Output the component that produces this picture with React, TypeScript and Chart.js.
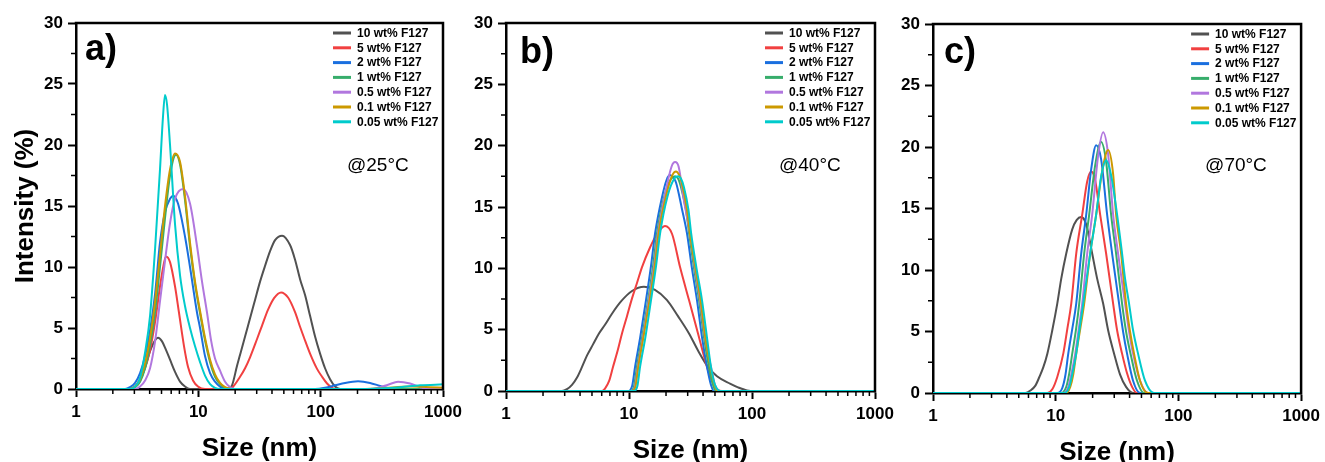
import React, { useEffect, useRef } from "react";
import { Chart, registerables } from "chart.js";

Chart.register(...registerables);

const FONT = '"Liberation Sans", Arial, Helvetica, sans-serif';

type Pt = [number, number];

// ---------- shared labels / ticks ----------
const seriesLabels = [
  "10 wt% F127",
  "5 wt% F127",
  "2 wt% F127",
  "1 wt% F127",
  "0.5 wt% F127",
  "0.1 wt% F127",
  "0.05 wt% F127",
];
const seriesColors = ["#515151", "#F14040", "#1A6FDF", "#37AD6B", "#B177DE", "#CC9900", "#00CBCC"];
const xTickValues = [1, 10, 100, 1000];
const xMinorDecades = [1, 10, 100];
const xMinorMultipliers = [2, 3, 4, 5, 6, 7, 8, 9];
const yTickValues = [0, 5, 10, 15, 20, 25, 30];
const yMinorValues = [2.5, 7.5, 12.5, 17.5, 22.5, 27.5];
const panelLetters = ["a)", "b)", "c)"];
const panelTemps = ["@25°C", "@40°C", "@70°C"];
const xTitle = "Size (nm)";
const yTitle = "Intensity (%)";

// ---------- panel a (25 °C) : [size nm, intensity %] ----------
const a_10wt: Pt[] = [[1,0],[2.76,0],[3.04,0.15],[3.34,0.7],[3.67,1.8],[4.03,3.1],[4.43,4.0],[4.68,4.2],[5.05,3.9],[5.44,3.2],[5.87,2.4],[6.45,1.4],[7.09,0.6],[7.78,0.2],[8.55,0],[17.5,0],[18.86,0.3],[20.72,1.9],[21.93,2.8],[24.1,4.3],[26.47,5.8],[29.08,7.3],[31.95,8.8],[35.12,10.1],[38.58,11.3],[42.38,12.2],[48.36,12.57],[56.21,11.8],[61.75,10.6],[67.85,9.0],[74.54,7.7],[81.9,6.0],[90.0,4.3],[98.9,2.9],[108.6,1.7],[119.4,0.8],[131.2,0.2],[144.1,0],[1000,0]];
const a_5wt: Pt[] = [[1,0],[2.76,0],[3.04,0.2],[3.34,0.8],[3.67,1.7],[4.03,3.2],[4.43,5.5],[4.86,8.4],[5.14,9.9],[5.44,10.87],[5.87,10.4],[6.45,8.4],[6.95,6.25],[7.64,3.5],[8.24,1.8],[9.05,0.7],[9.94,0.2],[11.34,0],[17.5,0],[18.86,0.1],[21.93,1.0],[24.1,1.7],[26.47,2.6],[30.2,4.1],[33.18,5.2],[37.15,6.5],[41.59,7.45],[47.46,7.92],[54.13,7.5],[61.75,6.3],[67.85,5.1],[73.13,4.2],[81.9,2.9],[93.4,1.65],[102.7,1.0],[112.8,0.45],[123.9,0.1],[133,0],[1000,0]];
const a_2wt: Pt[] = [[1,0],[2.52,0],[2.76,0.15],[3.04,0.5],[3.34,1.3],[3.67,2.7],[4.03,4.8],[4.43,7.8],[4.86,12.0],[5.34,14.5],[5.87,15.6],[6.21,15.85],[6.82,15.2],[7.78,12.5],[8.55,10.0],[9.76,6.25],[10.33,5.0],[11.34,2.7],[12.47,1.3],[13.69,0.6],[15.05,0.2],[17.49,0],[90,0],[108.6,0.1],[131.2,0.3],[158.3,0.5],[202.2,0.63],[253.4,0.5],[306,0.25],[369.4,0.05],[446,0],[1000,0]];
const a_1wt: Pt[] = [[1,0],[2.76,0],[3.04,0.15],[3.34,0.6],[3.67,1.7],[4.03,3.6],[4.43,6.3],[4.86,10.0],[5.34,14.0],[5.87,17.5],[6.57,19.2],[7.09,18.4],[7.78,15.5],[8.55,11.7],[9.4,8.6],[10.33,6.2],[11.34,4.0],[12.47,2.2],[13.69,1.0],[15.05,0.4],[16.54,0.1],[18.86,0],[1000,0]];
const a_05wt: Pt[] = [[1,0],[3.04,0],[3.34,0.2],[3.67,0.7],[4.03,1.7],[4.43,3.9],[4.86,7.2],[5.34,10.5],[5.87,13.6],[6.45,15.6],[7.5,16.4],[8.55,15.2],[9.76,11.7],[10.72,8.8],[11.78,6.25],[12.7,4.0],[13.69,2.5],[15.05,1.5],[16.54,0.6],[18.16,0.15],[19.96,0],[253.4,0],[294.6,0.1],[355.7,0.35],[429.5,0.6],[538.3,0.45],[649.7,0.15],[755.3,0],[1000,0]];
const a_01wt: Pt[] = [[1,0],[2.76,0],[3.04,0.2],[3.34,0.8],[3.67,2.1],[4.03,4.2],[4.43,7.2],[4.86,11.0],[5.34,15.0],[5.87,18.0],[6.45,19.3],[7.09,18.6],[7.78,15.8],[8.55,12.0],[9.4,8.8],[10.33,6.4],[11.34,4.2],[12.47,2.4],[13.69,1.2],[15.05,0.5],[16.54,0.15],[18.86,0],[174,0],[306,0.05],[538,0.2],[785,0.15],[1000,0.1]];
const a_005wt: Pt[] = [[1,0],[2.76,0],[3.04,0.2],[3.34,0.9],[3.67,3.0],[4.03,6.0],[4.43,11.5],[4.86,18.0],[5.14,22.3],[5.34,24.1],[5.55,23.3],[5.87,20.0],[6.45,13.5],[7.09,9.3],[7.78,6.8],[8.55,5.0],[9.4,3.5],[10.33,2.2],[11.34,1.1],[12.47,0.4],[13.69,0.1],[15.05,0],[200,0],[306,0.05],[446,0.15],[650,0.3],[1000,0.38]];

// ---------- panel b (40 °C) ----------
const b_10wt: Pt[] = [[1,0],[2.85,0],[3.13,0.15],[3.44,0.5],[3.78,1.1],[4.15,1.96],[4.56,2.9],[5.1,3.8],[5.7,4.69],[6.38,5.4],[7.27,6.3],[8.61,7.3],[10.58,8.15],[13.24,8.5],[16.27,8.25],[20.37,7.41],[25.02,6.1],[30.75,4.69],[36.39,3.3],[43.89,1.96],[51.93,1.2],[66.24,0.6],[76.9,0.3],[91.1,0.05],[105.8,0],[1000,0]];
const b_5wt: Pt[] = [[1,0],[6.03,0],[6.38,0.2],[6.88,0.8],[7.41,1.96],[8.14,3.4],[8.77,4.69],[9.63,6.1],[10.48,7.41],[11.61,8.8],[12.76,10.1],[14.82,11.7],[16.89,12.8],[19.62,13.45],[22.4,12.8],[26.0,10.1],[30.75,7.41],[36.39,4.69],[43.07,1.96],[47.3,0.8],[51.9,0.15],[57.0,0],[1000,0]];
const b_2wt: Pt[] = [[1,0],[9.8,0],[10.6,0.4],[11.2,1.96],[12.3,4.3],[13.75,7.41],[15.1,10.2],[16.3,12.86],[18.55,15.8],[20.2,17.2],[21.5,17.6],[22.8,17.4],[24.1,17.0],[27.0,14.8],[29.6,12.86],[32.5,10.0],[35.7,7.41],[39.2,4.4],[43.1,1.96],[46.4,0.5],[49.1,0],[1000,0]];
const b_1wt: Pt[] = [[1,0],[10.4,0],[11.0,0.4],[11.6,1.96],[12.8,4.4],[14.3,7.41],[15.7,10.2],[16.9,12.86],[19.4,15.9],[22.0,17.3],[23.7,17.5],[25.1,17.3],[26.5,16.6],[29.0,14.8],[30.8,12.86],[33.8,10.0],[37.1,7.41],[40.7,4.4],[44.7,1.96],[48.2,0.5],[51,0],[1000,0]];
const b_05wt: Pt[] = [[1,0],[10.6,0],[11.2,0.4],[11.8,1.96],[13.0,4.4],[14.5,7.41],[16.0,10.2],[17.2,12.86],[19.8,16.2],[22.2,18.3],[23.7,18.66],[25.3,18.3],[28.0,15.5],[31.3,12.86],[34.4,10.0],[37.8,7.41],[41.5,4.4],[46.4,1.96],[50,0.5],[54.9,0],[1000,0]];
const b_01wt: Pt[] = [[1,0],[10.6,0],[11.3,0.4],[11.9,1.96],[13.1,4.4],[14.7,7.41],[16.2,10.2],[17.4,12.86],[20.0,15.9],[22.5,17.6],[24.1,17.9],[25.6,17.6],[26.8,17.0],[29.5,14.9],[31.3,12.86],[34.7,10.0],[38.2,7.41],[41.7,4.4],[46.0,1.96],[49.5,0.5],[53,0],[1000,0]];
const b_005wt: Pt[] = [[1,0],[11.0,0],[11.7,0.4],[12.3,1.96],[13.6,4.4],[15.1,7.41],[16.6,10.2],[17.9,12.86],[20.6,15.9],[23.3,17.3],[25.0,17.5],[26.5,17.3],[28.0,16.6],[30.4,14.8],[32.0,12.86],[35.4,10.0],[39.2,7.41],[43.0,4.4],[46.4,1.96],[50,0.5],[57,0],[1000,0]];

// ---------- panel c (70 °C) ----------
const c_10wt: Pt[] = [[1,0],[5.66,0],[6.22,0.2],[6.83,0.6],[7.36,1.3],[7.93,2.1],[8.55,3.2],[9.38,5.1],[10.3,7.27],[11.1,9.3],[12.19,11.34],[13.64,13.3],[14.8,14.05],[16.14,14.3],[17.2,14.05],[18.06,13.4],[19.83,11.34],[21.77,9.3],[24.36,7.27],[26.75,5.1],[29.92,3.2],[33.48,1.5],[37.46,0.5],[42.71,0],[1000,0]];
const c_5wt: Pt[] = [[1,0],[8.55,0],[9.38,0.3],[10.3,1.3],[11.53,3.2],[12.43,5.2],[13.39,7.27],[14.7,11.34],[16.45,14.5],[18.06,17.2],[19.47,18.0],[20.97,17.3],[23.03,14.5],[25.76,11.34],[29.38,7.27],[31.65,5.1],[34.75,3.2],[38.16,1.6],[41.92,0.5],[46.02,0],[1000,0]];
const c_2wt: Pt[] = [[1,0],[10.3,0],[11.31,0.4],[11.97,1.4],[12.66,3.2],[13.64,5.2],[14.7,7.27],[16.14,11.34],[17.73,14.5],[19.47,18.2],[21.37,20.15],[23.46,19.0],[26.25,14.5],[28.83,11.34],[32.86,7.27],[35.41,5.0],[38.16,3.2],[42.71,1.0],[48.67,0],[1000,0]];
const c_1wt: Pt[] = [[1,0],[11.1,0],[12.19,0.5],[12.9,1.6],[13.64,3.2],[14.7,5.3],[15.55,7.27],[17.07,11.34],[18.75,14.5],[20.97,18.5],[23.46,20.4],[25.76,18.8],[28.29,14.5],[31.07,11.34],[34.75,7.27],[37.46,5.0],[41.14,3.0],[46.02,1.0],[52.47,0],[1000,0]];
const c_05wt: Pt[] = [[1,0],[11.53,0],[12.66,0.5],[13.39,1.5],[14.43,3.2],[15.55,5.5],[16.45,7.27],[18.06,11.34],[19.83,14.5],[22.18,19.3],[24.36,21.2],[26.75,19.4],[29.38,14.5],[32.25,11.34],[36.76,7.27],[39.62,5.0],[42.71,3.2],[48.67,1.0],[56.5,0],[1000,0]];
const c_01wt: Pt[] = [[1,0],[12.19,0],[13.14,0.5],[13.9,1.5],[14.7,3.2],[15.84,5.2],[17.07,7.27],[19.1,11.34],[21.37,14.5],[23.9,18.0],[26.75,19.75],[29.38,17.8],[31.07,14.5],[34.12,11.34],[37.46,7.27],[40.36,5.0],[43.5,3.2],[48.67,1.0],[56.5,0],[1000,0]];
const c_005wt: Pt[] = [[1,0],[11.75,0],[12.9,0.5],[13.64,1.5],[14.7,3.2],[15.55,5.0],[16.76,7.27],[19.1,11.34],[21.37,14.5],[23.46,17.6],[25.76,18.93],[28.29,17.7],[31.65,14.5],[34.75,11.34],[36.76,9.3],[39.62,7.27],[42.71,5.1],[46.9,3.2],[53.45,1.0],[63.2,0],[1000,0]];

const panelSeries: Pt[][][] = [
  [a_10wt, a_5wt, a_2wt, a_1wt, a_05wt, a_01wt, a_005wt],
  [b_10wt, b_5wt, b_2wt, b_1wt, b_05wt, b_01wt, b_005wt],
  [c_10wt, c_5wt, c_2wt, c_1wt, c_05wt, c_01wt, c_005wt],
];

// ---------- layout (positions only) ----------
const W = 1325;
const H = 462;
const layouts = [
  { padL: 0, padR: 882, padT: 23, yW: 76, xH: 73, titlePadB: -2, letterDx: 9, letterBase: 60, showYTitle: true },
  { padL: 450, padR: 450, padT: 23, yW: 56, xH: 71, titlePadB: -4, letterDx: 14, letterBase: 63, showYTitle: false },
  { padL: 890, padR: 22, padT: 24, yW: 43, xH: 69, titlePadB: -6, letterDx: 11, letterBase: 63, showYTitle: false },
];

function decorPlugin(idx: number) {
  const L = layouts[idx];
  return {
    id: "decor" + idx,
    afterDraw(chart: any) {
      const { ctx, chartArea: ca, scales } = chart;
      const xs = scales.x;
      const ys = scales.y;
      ctx.save();
      // top & right frame
      ctx.strokeStyle = "#000";
      ctx.lineWidth = 2.5;
      ctx.beginPath();
      ctx.moveTo(ca.left - 1.25, ca.top);
      ctx.lineTo(ca.right, ca.top);
      ctx.lineTo(ca.right, ca.bottom + 1.25);
      ctx.stroke();
      // minor ticks
      ctx.lineWidth = 1.5;
      ctx.beginPath();
      for (const d of xMinorDecades) {
        for (const m of xMinorMultipliers) {
          const px = xs.getPixelForValue(d * m);
          ctx.moveTo(px, ca.bottom);
          ctx.lineTo(px, ca.bottom + 5);
        }
      }
      for (const v of yMinorValues) {
        const py = ys.getPixelForValue(v);
        ctx.moveTo(ca.left, py);
        ctx.lineTo(ca.left - 5, py);
      }
      ctx.stroke();
      // panel letter
      ctx.fillStyle = "#000";
      ctx.textBaseline = "alphabetic";
      ctx.textAlign = "left";
      ctx.font = `bold 36px ${FONT}`;
      ctx.fillText(panelLetters[idx], ca.left + L.letterDx, L.letterBase);
      // temperature
      ctx.font = `19px ${FONT}`;
      ctx.fillText(panelTemps[idx], ca.right - 96, 171);
      // legend
      ctx.font = `bold 12px ${FONT}`;
      ctx.textBaseline = "middle";
      chart.data.datasets.forEach((ds: any, i: number) => {
        const y = ca.top + 10 + i * 14.8;
        ctx.strokeStyle = ds.borderColor;
        ctx.lineWidth = 3;
        ctx.beginPath();
        ctx.moveTo(ca.right - 110, y);
        ctx.lineTo(ca.right - 92, y);
        ctx.stroke();
        ctx.fillStyle = "#000";
        ctx.fillText(ds.label, ca.right - 86, y + 0.5);
      });
      ctx.restore();
    },
  };
}

function makeConfig(idx: number): any {
  const L = layouts[idx];
  const series = panelSeries[idx];
  return {
    type: "line",
    data: {
      datasets: series.map((pts, i) => ({
        label: seriesLabels[i],
        data: pts.map(([x, y]) => ({ x, y })),
        borderColor: seriesColors[i],
        backgroundColor: seriesColors[i],
        borderWidth: 2,
        pointRadius: 0,
        pointHoverRadius: 0,
        cubicInterpolationMode: "monotone",
        fill: false,
        order: series.length - 1 - i,
      })),
    },
    options: {
      animation: false,
      responsive: false,
      devicePixelRatio: 1,
      events: [],
      layout: { padding: { left: L.padL, right: L.padR, top: L.padT, bottom: 0 } },
      plugins: { legend: { display: false }, tooltip: { enabled: false } },
      scales: {
        x: {
          type: "logarithmic",
          position: "bottom",
          min: 1,
          max: 1000,
          afterFit: (s: any) => {
            s.height = L.xH;
          },
          afterBuildTicks: (s: any) => {
            s.ticks = xTickValues.map((v) => ({ value: v }));
          },
          ticks: {
            callback: (v: any) => String(v),
            font: { family: FONT, size: 17, weight: "bold" },
            color: "#000",
            padding: 5,
            maxRotation: 0,
            autoSkip: false,
          },
          grid: { drawOnChartArea: false, drawTicks: true, tickLength: 8, tickWidth: 2, tickColor: "#000" },
          border: { display: true, color: "#000", width: 2.5 },
          title: {
            display: true,
            text: xTitle,
            color: "#000",
            font: { family: FONT, size: 26, weight: "bold" },
            padding: { top: 0, bottom: L.titlePadB },
          },
        },
        y: {
          type: "linear",
          position: "left",
          min: 0,
          max: 30,
          afterFit: (s: any) => {
            s.width = L.yW;
          },
          afterBuildTicks: (s: any) => {
            s.ticks = yTickValues.map((v) => ({ value: v }));
          },
          ticks: {
            callback: (v: any) => String(v),
            font: { family: FONT, size: 17, weight: "bold" },
            color: "#000",
            padding: 5,
            autoSkip: false,
          },
          grid: { drawOnChartArea: false, drawTicks: true, tickLength: 8, tickWidth: 2, tickColor: "#000" },
          border: { display: true, color: "#000", width: 2.5 },
          title: {
            display: L.showYTitle,
            text: yTitle,
            color: "#000",
            font: { family: FONT, size: 26, weight: "bold" },
            padding: { top: 10, bottom: 0 },
          },
        },
      },
    },
    plugins: [decorPlugin(idx)],
  };
}

function Panel({ idx }: { idx: number }) {
  const ref = useRef<HTMLCanvasElement>(null);
  useEffect(() => {
    if (!ref.current) return;
    const chart = new Chart(ref.current, makeConfig(idx));
    return () => chart.destroy();
  }, [idx]);
  return (
    <canvas
      ref={ref}
      width={W}
      height={H}
      style={{ position: "absolute", left: 0, top: 0, width: W, height: H }}
    />
  );
}

export default function App() {
  return (
    <div style={{ position: "absolute", left: 0, top: 0, width: W, height: H, background: "#fff" }}>
      {[0, 1, 2].map((i) => (
        <Panel key={i} idx={i} />
      ))}
    </div>
  );
}
